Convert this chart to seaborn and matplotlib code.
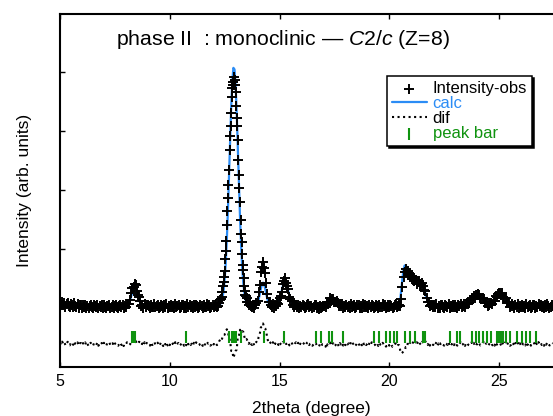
import numpy as np
import pandas as pd
import matplotlib
matplotlib.use("Agg")
import matplotlib.pyplot as plt
import seaborn as sns

# powder pattern, 0.05 deg step from 5.00 to 27.45 deg
two_theta = np.round(5.0 + 0.05 * np.arange(450), 2)

obs_counts = [
    1082, 1043, 1096, 1056, 1080, 1025, 1062, 1083, 1037, 1020, 1070, 1054, 1024, 1077, 1035, 1020, 1061, 1007, 1044, 1048,
    1007, 1045, 1020, 1057, 1003, 1033, 995, 1040, 1050, 1015, 997, 1043, 1030, 1010, 1055, 1000, 1035, 1017, 1047, 1005,
    1050, 1015, 997, 1040, 1030, 1055, 1005, 1017, 1043, 993, 1035, 1047, 1010, 1000, 1033, 1053, 1013, 1045, 995, 1030,
    1022, 1071, 1072, 1073, 1140, 1251, 1344, 1358, 1405, 1388, 1282, 1226, 1180, 1113, 1040, 1051, 1002, 1060, 1018, 1048,
    1045, 1040, 1002, 1055, 1012, 1025, 1065, 1010, 1038, 1052, 1000, 1015, 1058, 1035, 995, 1048, 1022, 1060, 1005, 1042,
    1010, 1052, 1022, 1040, 1005, 1060, 1015, 1035, 1048, 1002, 1020, 1055, 1045, 1000, 1038, 1008, 1062, 1025, 1050, 1012,
    1035, 1000, 1050, 1018, 1058, 1038, 1005, 1015, 1052, 1040, 998, 1048, 1022, 1010, 1060, 1035, 1045, 1002, 1020, 1055,
    1022, 1058, 1040, 1013, 1033, 1089, 1137, 1150, 1276, 1442, 1631, 1970, 2402, 2868, 3334, 3913, 4301, 4731, 4834, 4865,
    4660, 4218, 3852, 3252, 2789, 2256, 1911, 1636, 1378, 1216, 1174, 1104, 1044, 1081, 1032, 1012, 1055, 1007, 1057, 1091,
    1120, 1266, 1395, 1606, 1693, 1778, 1685, 1589, 1425, 1236, 1110, 1094, 1052, 1020, 1060, 1005, 1045, 1036, 1084, 1074,
    1171, 1207, 1274, 1400, 1452, 1500, 1427, 1377, 1320, 1185, 1156, 1116, 1047, 1019, 1043, 1058, 1018, 1050, 1000, 1035,
    1022, 1058, 1040, 1005, 1015, 1050, 1062, 1012, 1035, 1042, 1000, 1025, 1055, 1045, 1008, 1015, 990, 1035, 1000, 1025,
    1037, 1041, 1019, 1102, 1076, 1106, 1161, 1116, 1148, 1158, 1096, 1096, 1122, 1082, 1027, 1069, 1034, 1060, 1005, 1042,
    1010, 1052, 1022, 1040, 1005, 1060, 1015, 1035, 1048, 1002, 1020, 1055, 1045, 1000, 1038, 1008, 1062, 1025, 1050, 1012,
    1035, 1000, 1050, 1018, 1058, 1038, 1005, 1015, 1052, 1040, 998, 1048, 1022, 1010, 1060, 1035, 1045, 1002, 1020, 1055,
    1022, 1058, 1040, 1005, 1015, 1050, 1062, 1012, 1035, 1052, 1040, 1155, 1355, 1525, 1608, 1668, 1612, 1630, 1558, 1568,
    1542, 1485, 1520, 1462, 1468, 1405, 1435, 1458, 1410, 1385, 1422, 1378, 1300, 1285, 1175, 1102, 1105, 1027, 1050, 1045,
    1012, 1050, 1025, 1062, 1008, 1038, 1000, 1045, 1055, 1020, 1002, 1048, 1035, 1015, 1060, 1005, 1040, 1022, 1052, 1010,
    1055, 1020, 1002, 1045, 1035, 1060, 1014, 1029, 1060, 1016, 1068, 1092, 1070, 1079, 1133, 1175, 1158, 1210, 1176, 1221,
    1212, 1244, 1216, 1165, 1155, 1167, 1157, 1086, 1093, 1086, 1036, 1057, 1090, 1089, 1069, 1121, 1112, 1201, 1189, 1245,
    1259, 1260, 1216, 1252, 1183, 1166, 1175, 1091, 1095, 1089, 1023, 1029, 1066, 1039, 995, 1048, 1022, 1060, 1005, 1042,
    1012, 1054, 1024, 1042, 1007, 1062, 1017, 1037, 1050, 1004, 1022, 1057, 1047, 1002, 1040, 1010, 1064, 1027, 1052, 1014,
    1037, 1002, 1052, 1020, 1060, 1040, 1007, 1017, 1054, 1042,
]

calc_counts = [
    1060, 1058, 1056, 1054, 1052, 1050, 1048, 1046, 1044, 1042, 1040, 1039, 1038, 1037, 1036, 1035, 1034, 1033, 1032, 1031,
    1030, 1030, 1030, 1030, 1030, 1030, 1030, 1030, 1030, 1030, 1030, 1030, 1030, 1030, 1030, 1030, 1030, 1030, 1030, 1030,
    1030, 1030, 1030, 1030, 1030, 1030, 1030, 1030, 1030, 1030, 1030, 1030, 1030, 1030, 1030, 1030, 1030, 1030, 1030, 1030,
    1030, 1042, 1059, 1091, 1142, 1209, 1282, 1339, 1360, 1339, 1282, 1209, 1142, 1091, 1059, 1042, 1030, 1030, 1030, 1030,
    1030, 1030, 1030, 1030, 1030, 1030, 1030, 1030, 1030, 1030, 1030, 1030, 1030, 1030, 1030, 1030, 1030, 1030, 1030, 1030,
    1030, 1030, 1030, 1030, 1030, 1030, 1030, 1030, 1030, 1030, 1030, 1030, 1030, 1030, 1030, 1030, 1030, 1030, 1030, 1030,
    1030, 1030, 1030, 1030, 1030, 1030, 1030, 1030, 1030, 1030, 1030, 1030, 1030, 1030, 1030, 1030, 1030, 1030, 1030, 1030,
    1030, 1030, 1030, 1032, 1036, 1044, 1063, 1099, 1166, 1284, 1474, 1758, 2153, 2656, 3241, 3855, 4419, 4848, 5070, 5044,
    4777, 4314, 3733, 3120, 2548, 2065, 1693, 1429, 1255, 1149, 1090, 1058, 1042, 1035, 1032, 1030, 1030, 1033, 1039, 1055,
    1088, 1147, 1230, 1324, 1400, 1430, 1400, 1324, 1230, 1147, 1088, 1055, 1039, 1033, 1030, 1030, 1035, 1043, 1061, 1091,
    1141, 1209, 1290, 1369, 1428, 1450, 1428, 1369, 1290, 1209, 1141, 1091, 1061, 1043, 1035, 1030, 1030, 1030, 1030, 1030,
    1030, 1030, 1030, 1030, 1030, 1030, 1030, 1030, 1030, 1030, 1030, 1030, 1030, 1030, 1030, 1030, 1030, 1030, 1030, 1030,
    1043, 1053, 1065, 1081, 1100, 1118, 1135, 1146, 1150, 1146, 1135, 1118, 1100, 1081, 1065, 1053, 1043, 1036, 1032, 1030,
    1030, 1030, 1030, 1030, 1030, 1030, 1030, 1030, 1030, 1030, 1030, 1030, 1030, 1030, 1030, 1030, 1030, 1030, 1030, 1030,
    1030, 1030, 1030, 1030, 1030, 1030, 1030, 1030, 1030, 1030, 1032, 1034, 1036, 1038, 1040, 1042, 1044, 1046, 1048, 1050,
    1050, 1052, 1054, 1055, 1055, 1054, 1052, 1050, 1051, 1072, 1148, 1314, 1500, 1650, 1720, 1720, 1670, 1610, 1570, 1540,
    1515, 1490, 1470, 1450, 1430, 1415, 1405, 1405, 1405, 1400, 1385, 1355, 1305, 1240, 1175, 1120, 1080, 1055, 1040, 1033,
    1030, 1030, 1030, 1030, 1030, 1030, 1030, 1030, 1030, 1030, 1030, 1030, 1030, 1030, 1030, 1030, 1030, 1030, 1030, 1030,
    1030, 1030, 1030, 1030, 1030, 1030, 1034, 1037, 1042, 1048, 1058, 1070, 1085, 1104, 1125, 1147, 1170, 1190, 1206, 1216,
    1220, 1216, 1206, 1190, 1170, 1147, 1125, 1104, 1088, 1074, 1066, 1062, 1065, 1074, 1091, 1113, 1140, 1171, 1201, 1227,
    1244, 1250, 1244, 1227, 1201, 1171, 1140, 1111, 1087, 1067, 1053, 1044, 1038, 1034, 1030, 1030, 1030, 1030, 1030, 1030,
    1032, 1032, 1032, 1032, 1032, 1032, 1032, 1032, 1032, 1032, 1032, 1032, 1032, 1032, 1032, 1032, 1032, 1032, 1032, 1032,
    1032, 1032, 1032, 1032, 1032, 1032, 1032, 1032, 1032, 1032,
]

# extra observed points on the strong reflection (half-step positions)
fine_theta = [12.325, 12.375, 12.425, 12.475, 12.525, 12.575, 12.625, 12.675, 12.725,
              12.775, 12.825, 12.875, 12.925, 12.975, 13.025, 13.075, 13.125, 13.175,
              13.225, 13.275, 13.325, 13.375, 13.425, 13.475, 13.525]
fine_obs = [1147, 1193, 1372, 1525, 1832, 2131, 2648, 3081, 3686,
            4088, 4575, 4775, 4920, 4781, 4428, 4085, 3502, 3031,
            2493, 2118, 1731, 1512, 1287, 1204, 1110]

# Bragg reflection positions (deg)
peak_pos = [8.28, 8.34, 8.43, 10.75, 12.70, 12.82, 12.93, 13.02, 13.23, 14.29, 15.20,
            16.66, 16.88, 17.24, 17.39, 17.91, 19.31, 19.55, 19.85, 20.03, 20.23, 20.34,
            20.72, 20.95, 21.17, 21.55, 21.63, 22.77, 23.07, 23.22, 23.76, 23.95, 24.10,
            24.28, 24.44, 24.62, 24.89, 24.95, 25.02, 25.08, 25.16, 25.32, 25.51, 25.84,
            26.03, 26.23, 26.41, 26.69]

dif_offset = 390
bar_level = 508

blue = "#2b8cf5"
green = "#0f930f"

df = pd.DataFrame({"two_theta": two_theta, "obs": obs_counts, "calc": calc_counts})
df["dif"] = df["obs"] - df["calc"] + dif_offset
df_fine = pd.DataFrame({"two_theta": fine_theta, "obs": fine_obs})
df_bar = pd.DataFrame({"pos": peak_pos, "level": bar_level})

sns.set_theme(style="ticks")
plt.rcParams['font.family'] = ['Liberation Sans', 'DejaVu Sans']
plt.rcParams['mathtext.fontset'] = 'custom'
plt.rcParams['mathtext.rm'] = 'Liberation Sans'
plt.rcParams['mathtext.it'] = 'Liberation Sans:italic'

fig = plt.figure(figsize=(5.53, 4.16), dpi=100)
ax = fig.add_axes([0.1085, 0.1178, 0.8915, 0.8486])

sns.lineplot(data=df, x="two_theta", y="calc", color=blue, linewidth=1.6,
             label="calc", ax=ax, zorder=2, estimator=None)
sns.scatterplot(data=df, x="two_theta", y="obs", marker="+", s=42, color="black",
                linewidth=1.4, label="Intensity-obs", ax=ax, zorder=3)
sns.scatterplot(data=df_fine, x="two_theta", y="obs", marker="+", s=42, color="black",
                linewidth=1.4, ax=ax, zorder=3, legend=False)
sns.lineplot(data=df, x="two_theta", y="dif", color="black", linewidth=1.5,
             linestyle=":", label="dif", ax=ax, estimator=None)
sns.scatterplot(data=df_bar, x="pos", y="level", marker="|", s=75, color=green,
                linewidth=1.5, label="peak bar", ax=ax, zorder=4)

ax.set_xlim(5, 27.46)
ax.set_ylim(0, 5983)
ax.set_xticks([5, 10, 15, 20, 25])
ax.set_yticks([1000, 2000, 3000, 4000, 5000])
ax.set_yticklabels([])
ax.tick_params(direction="in", length=3.6, width=1, top=True, right=False,
               labelsize=11.5, colors="black", pad=5)
for side in ["top", "left", "bottom"]:
    ax.spines[side].set_color("black")
    ax.spines[side].set_linewidth(1.5)
ax.spines["right"].set_visible(False)

ax.set_xlabel("2theta (degree)", fontsize=12.5, color="black")
ax.set_ylabel("Intensity (arb. units)", fontsize=12.5, color="black")
ax.xaxis.set_label_coords(0.509, -0.095)
ax.yaxis.set_label_coords(-0.057, 0.5)

ax.text(0.453, 0.929, "phase II  : monoclinic — $\\mathit{C2/c}$ (Z=8)",
        transform=ax.transAxes, ha="center", va="center", fontsize=15.3, color="black")

handles, labels = ax.get_legend_handles_labels()
order = [labels.index(n) for n in ["Intensity-obs", "calc", "dif", "peak bar"]]
leg = ax.legend([handles[i] for i in order], [labels[i] for i in order],
                loc="upper left", bbox_to_anchor=(0.663, 0.824), borderaxespad=0,
                fontsize=12, labelspacing=0.0, handlelength=2.1, handletextpad=0.35,
                borderpad=0.3, fancybox=False, framealpha=1, edgecolor="black",
                shadow={"ox": 1.5, "oy": -1.5, "color": "black", "alpha": 1})
leg.get_frame().set_linewidth(1.1)
for txt, c in zip(leg.get_texts(), ["black", blue, "black", green]):
    txt.set_color(c)

fig.savefig("out.png", dpi=100)
